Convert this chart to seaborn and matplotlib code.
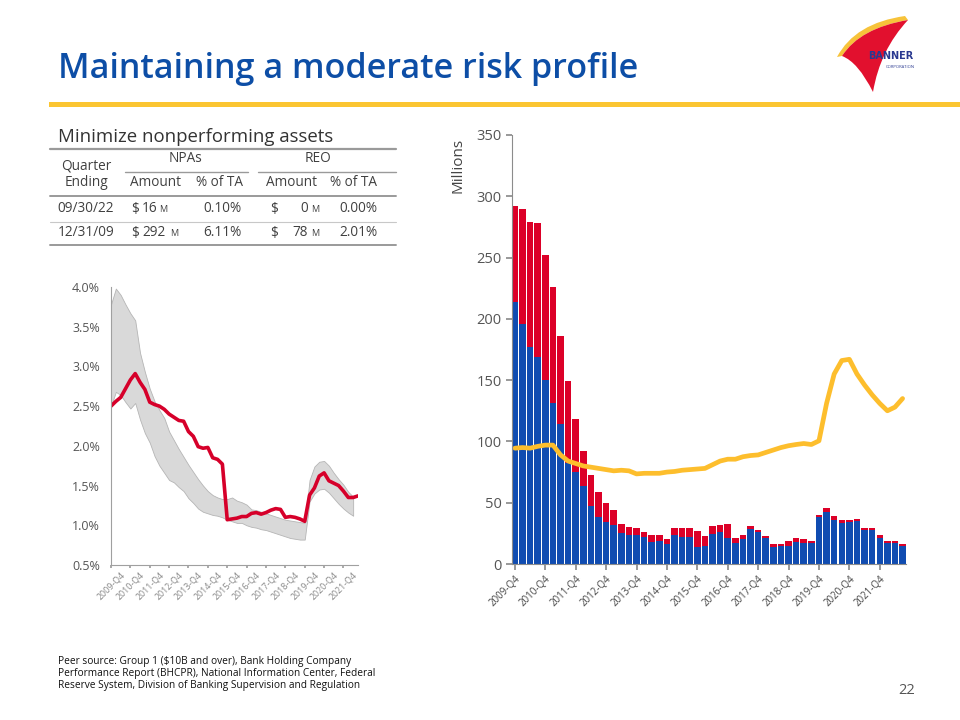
import numpy as np
import pandas as pd
import matplotlib
matplotlib.use("Agg")
import matplotlib.pyplot as plt
from matplotlib.path import Path
from matplotlib.patches import PathPatch, Rectangle
import seaborn as sns

# --------------------------------------------------------------
# Data
# --------------------------------------------------------------
quarters = ["2009-Q4"] + [f"{y}-Q{q}" for y in range(2010, 2022) for q in range(1, 5)] + ["2022-Q1", "2022-Q2", "2022-Q3"]

# right chart, $ millions
npl = [214, 196, 177, 169, 150, 131, 114, 82, 75, 64, 47, 38, 34, 32, 25, 24,
       24, 22, 18, 19, 16, 23.7, 22.3, 22.3, 14, 15, 24.5, 26.4, 21.5, 17.4, 20.4, 28.6,
       26.1, 21.2, 14.1, 14.9, 14.9, 18.2, 17.1, 17.1, 38.3, 42.7, 35.9, 33.7, 34.3, 34.8,
       28, 27.7, 21.5, 16.9, 16.9, 14.4]
reo = [78, 94, 102, 109, 102, 95, 72, 67, 43, 28, 26, 21, 16, 12, 8, 6,
       5, 4, 6, 5, 4, 5.7, 7.1, 7.1, 13, 8, 6.5, 5.6, 11.5, 3.6, 3.3, 2.4,
       1.6, 1.6, 2.2, 1.4, 3.9, 3, 3, 1.7, 1.7, 3.3, 3.3, 2.2, 1.6, 1.9,
       1.6, 1.7, 2.2, 1.9, 1.9, 1.6]
acl = [94.5, 95, 94.5, 96, 97, 97, 89, 84, 82, 80, 79, 78, 77, 76, 76.5, 76,
       73.5, 74, 74, 74, 75, 75.5, 76.5, 77, 77.5, 78, 81, 84, 85.5, 85.5, 87.5, 88.5,
       89, 91, 93, 95, 96.5, 97.5, 98.3, 97.5, 100.5, 131, 155, 166, 167, 155,
       146, 138, 131, 125, 128, 135]

# left chart, ACLL / total loans (%)
banner_acll = [2.50, 2.56, 2.61, 2.72, 2.83, 2.91, 2.80, 2.71, 2.55, 2.52, 2.50, 2.46, 2.40,
               2.36, 2.32, 2.31, 2.18, 2.12, 1.99, 1.97, 1.98, 1.85, 1.83, 1.77, 1.07, 1.08,
               1.09, 1.11, 1.11, 1.15, 1.16, 1.14, 1.16, 1.19, 1.21, 1.20, 1.10, 1.11, 1.10,
               1.08, 1.05, 1.38, 1.47, 1.62, 1.66, 1.56, 1.53, 1.50, 1.43, 1.35, 1.35, 1.37]
peer_top = [3.78, 3.98, 3.90, 3.78, 3.67, 3.58, 3.17, 2.93, 2.72, 2.56, 2.45, 2.35, 2.18,
            2.07, 1.96, 1.86, 1.76, 1.67, 1.58, 1.50, 1.43, 1.38, 1.35, 1.33, 1.33, 1.35,
            1.31, 1.29, 1.26, 1.20, 1.19, 1.17, 1.15, 1.13, 1.11, 1.09, 1.07, 1.06, 1.05,
            1.04, 1.03, 1.57, 1.74, 1.80, 1.81, 1.75, 1.66, 1.58, 1.51, 1.42, 1.36, np.nan]
peer_median = [2.50, 2.68, 2.64, 2.55, 2.47, 2.54, 2.33, 2.16, 2.04, 1.87, 1.75, 1.66, 1.57,
               1.54, 1.48, 1.43, 1.34, 1.28, 1.21, 1.17, 1.15, 1.13, 1.12, 1.10, 1.07, 1.05,
               1.03, 1.03, 1.00, 0.98, 0.97, 0.95, 0.94, 0.92, 0.90, 0.88, 0.86, 0.84, 0.83,
               0.82, 0.82, 1.30, 1.40, 1.45, 1.46, 1.41, 1.34, 1.27, 1.21, 1.16, 1.12, np.nan]

table_header = ["Amount", "% of TA", "Amount", "% of TA"]
table_rows = [
    ["09/30/22", "16", "0.10%", "0", "0.00%"],
    ["12/31/09", "292", "6.11%", "78", "2.01%"],
]

df = pd.DataFrame({"quarter": quarters, "npl": npl, "reo": reo, "acl": acl,
                   "banner": banner_acll, "top": peer_top, "median": peer_median})
df["total"] = df["npl"] + df["reo"]
df["pos"] = np.arange(len(df))

# Plot settings
sns.set_theme(style="white")
plt.rcParams["font.family"] = ["Open Sans", "DejaVu Sans"]

BLUE = "#104cb1"
RED = "#dc0028"
YELLOW = "#fdbe2d"
TITLE_BLUE = "#0d4ea6"
GREY = "#404040"

fig = plt.figure(figsize=(9.6, 7.2), dpi=100)
W, H = 960, 720

# background layer in pixel coordinates
bg = fig.add_axes([0, 0, 1, 1])
bg.set_xlim(0, W)
bg.set_ylim(H, 0)
bg.axis("off")


def px_axes(x0, y0, x1, y1):
    return fig.add_axes([x0 / W, 1 - y1 / H, (x1 - x0) / W, (y1 - y0) / H])


# --------------------------------------------------------------
# Header
# --------------------------------------------------------------
bg.text(58, 78, "Maintaining a moderate risk profile", fontsize=24.6, color=TITLE_BLUE,
        fontweight="semibold", va="baseline")
bg.add_patch(Rectangle((49, 102), 911, 5, color="#fbc531", lw=0))

# logo
yellow_sail = Path([(905, 16), (855, 23), (837, 57), (842, 56), (860, 28), (908, 20), (905, 16)],
                   [Path.MOVETO, Path.CURVE3, Path.CURVE3, Path.LINETO, Path.CURVE3, Path.CURVE3, Path.CLOSEPOLY])
red_sail = Path([(908, 20), (860, 28), (842, 56), (858, 62), (873, 92), (880, 50), (908, 20)],
                [Path.MOVETO, Path.CURVE3, Path.CURVE3, Path.CURVE3, Path.CURVE3, Path.CURVE3, Path.CURVE3])
bg.add_patch(PathPatch(yellow_sail, facecolor="#f7c33a", lw=0))
bg.add_patch(PathPatch(red_sail, facecolor="#e2102e", lw=0))
bg.text(891, 56, "BANNER", fontsize=7, color="#2a3990", fontweight="bold", ha="center", va="center",
        family=["Liberation Sans Narrow", "DejaVu Sans"])
bg.text(900, 67, "CORPORATION", fontsize=3, color="#2a3990", ha="center", va="center")

# --------------------------------------------------------------
# NPA table
# --------------------------------------------------------------
bg.text(58, 137, "Minimize nonperforming assets", fontsize=13.4, color="#333333", va="center")
bg.plot([50, 396], [149, 149], color="#9a9a9a", lw=1.6)
bg.plot([125, 248], [171.5, 171.5], color="#9a9a9a", lw=1.0)
bg.plot([258, 396], [171.5, 171.5], color="#9a9a9a", lw=1.0)
bg.plot([50, 396], [195.5, 195.5], color="#9a9a9a", lw=1.4)
bg.plot([50, 396], [222, 222], color="#c8c8c8", lw=0.8)
bg.plot([50, 396], [245, 245], color="#9a9a9a", lw=1.4)

tkw = dict(fontsize=9.8, color=GREY, va="center")
bg.text(86, 166, "Quarter", ha="center", **tkw)
bg.text(86, 183, "Ending", ha="center", **tkw)
bg.text(186, 159, "NPAs", ha="center", **tkw)
bg.text(318, 159, "REO", ha="center", **tkw)
for xc, lab in zip([156, 219, 292, 353], table_header):
    bg.text(xc, 183, lab, ha="center", **tkw)
for yc, row in zip([209, 233], table_rows):
    bg.text(86, yc, row[0], ha="center", **tkw)
    bg.text(131, yc, "$", ha="left", **tkw)
    bg.text(157 if len(row[1]) < 3 else 166, yc, row[1], ha="right", **tkw)
    bg.text(159 if len(row[1]) < 3 else 170, yc, "M", ha="left", fontsize=6.5, color=GREY, va="center")
    bg.text(241, yc, row[2], ha="right", **tkw)
    bg.text(270, yc, "$", ha="left", **tkw)
    bg.text(308, yc, row[3], ha="right", **tkw)
    bg.text(311, yc, "M", ha="left", fontsize=6.5, color=GREY, va="center")
    bg.text(377, yc, row[4], ha="right", **tkw)

# --------------------------------------------------------------
# Left chart: ACLL to total loans
# --------------------------------------------------------------
axl = px_axes(111, 287, 358, 565)
axl.fill_between(df["pos"], df["median"], df["top"], color="#d9d9d9", edgecolor="#b5b5b5", lw=0.6)
sns.lineplot(data=df, x="pos", y="banner", color="#d6002a", lw=2.6, ax=axl)
axl.set_xlim(0, len(df) - 1)
axl.set_ylim(0.5, 4.0)
axl.set_yticks(np.arange(0.5, 4.01, 0.5))
axl.set_yticklabels([f"{v:.1f}%" for v in np.arange(0.5, 4.01, 0.5)], fontsize=9, color="#555555")
axl.set_xticks(df["pos"][::4])
axl.set_xticklabels(df["quarter"][::4], rotation=45, ha="center", fontsize=6.4, color="#888888")
axl.set_xlabel("")
axl.set_ylabel("")
for s in ["top", "right"]:
    axl.spines[s].set_visible(False)
for s in ["left", "bottom"]:
    axl.spines[s].set_color("#a0a0a0")
    axl.spines[s].set_linewidth(0.8)
axl.tick_params(axis="x", length=2.5, color="#a0a0a0", pad=1, bottom=True)
axl.tick_params(axis="y", length=0, pad=8)

bg.text(189, 305, "ACLL to Total Loans", fontsize=8.6, color="#222222", va="center")
bg.plot([189, 205], [321, 321], color="#d6002a", lw=2.6)
bg.text(210, 321, "Banner", fontsize=8.6, color="#222222", va="center")
bg.text(155, 354, "Peer Top Quartile", fontsize=7, color="#111111", va="center")
bg.text(132, 509, "Peer Median", fontsize=7, color="#111111", va="center")

# --------------------------------------------------------------
# Right chart: NPAs stacked with ACL line
# --------------------------------------------------------------
axr = px_axes(511.5, 135, 906, 564)
sns.barplot(data=df, x="quarter", y="total", color=RED, saturation=1, width=0.86, linewidth=0, ax=axr)
sns.barplot(data=df, x="quarter", y="npl", color=BLUE, saturation=1, width=0.86, linewidth=0, ax=axr)
sns.lineplot(data=df, x="pos", y="acl", color=YELLOW, lw=3.4, ax=axr)
axr.set_xlim(-0.45, len(df) - 0.55)
axr.set_ylim(0, 350)
axr.set_yticks(range(0, 351, 50))
axr.set_yticklabels([str(v) for v in range(0, 351, 50)], fontsize=10.5, color="#555555")
axr.set_xticks(df["pos"][::4])
axr.set_xticklabels(df["quarter"][::4], rotation=45, ha="right", rotation_mode="anchor",
                    fontsize=7, color="#444444")
axr.set_xlabel("")
axr.set_ylabel("")
for s in ["top", "right"]:
    axr.spines[s].set_visible(False)
for s in ["left", "bottom"]:
    axr.spines[s].set_color("#8c8c8c")
    axr.spines[s].set_linewidth(0.8)
axr.tick_params(axis="both", length=4, color="#8c8c8c", bottom=True, left=True, pad=3)

bg.text(458, 165, "Millions", fontsize=11, color="#444444", rotation=90, ha="center", va="center")
bg.text(584, 219, "Real Estate Owned", fontsize=10.8, color=RED, va="center")
bg.text(584, 239, "Nonperforming Loans", fontsize=10.8, color=BLUE, va="center")
bg.plot([703, 722], [410, 410], color=YELLOW, lw=3.4)
bg.text(728, 412, "ACL-Loans", fontsize=9, color="#222222", va="center")

# --------------------------------------------------------------
# Footer
# --------------------------------------------------------------
bg.text(58, 656, "Peer source: Group 1 ($10B and over), Bank Holding Company\n"
                 "Performance Report (BHCPR), National Information Center, Federal\n"
                 "Reserve System, Division of Banking Supervision and Regulation",
        fontsize=7.3, color="#111111", va="top", linespacing=1.12)
bg.text(915, 690, "22", fontsize=10.5, color="#555555", ha="right", va="center")

fig.savefig("out.png", dpi=100)
